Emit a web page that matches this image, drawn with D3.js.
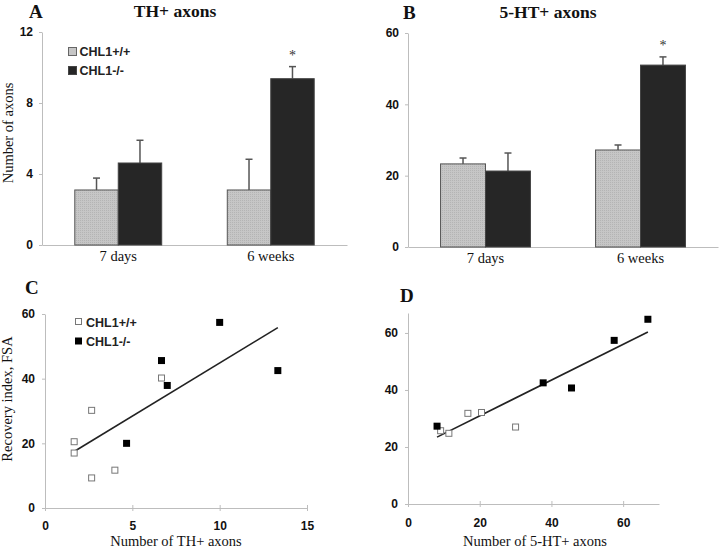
<!DOCTYPE html>
<html><head><meta charset="utf-8">
<script src="https://cdn.jsdelivr.net/npm/d3@7"></script>
<style>
body{margin:0;background:#fff;}
svg{display:block;}
</style></head>
<body>
<svg id="chart" width="720" height="548"></svg>
<script>
// ---------- data ----------
const categories = ["7 days", "6 weeks"];
const groups = ["CHL1+/+", "CHL1-/-"];
// Panel A: TH+ axons
const thWT = [3.1, 3.1];
const thWTerr = [0.67, 1.73];
const thKO = [4.62, 9.37];
const thKOerr = [1.28, 0.68];
const thTicks = [0, 4, 8, 12];
// Panel B: 5-HT+ axons
const htWT = [23.3, 27.2];
const htWTerr = [1.65, 1.4];
const htKO = [21.3, 51.0];
const htKOerr = [5.05, 2.3];
const htTicks = [0, 20, 40, 60];
// Panel C: recovery index vs TH+ axons
const cWTx = [1.67, 1.67, 2.67, 2.67, 4.0, 6.67];
const cWTy = [20.5, 17.0, 9.3, 30.2, 11.7, 40.2];
const cKOx = [4.67, 6.67, 7.0, 10.0, 13.33];
const cKOy = [20.0, 45.6, 37.9, 57.4, 42.5];
const cXTicks = [0, 5, 10, 15];
const cYTicks = [0, 20, 40, 60];
// Panel D: recovery index vs 5-HT+ axons
const dWTx = [9.1, 11.4, 16.7, 20.5, 30.0];
const dWTy = [25.7, 24.8, 31.8, 32.1, 27.0];
const dKOx = [8.1, 37.7, 45.6, 57.5, 66.9];
const dKOy = [27.3, 42.5, 40.7, 57.4, 64.8];
const dXTicks = [0, 20, 40, 60];
const dYTicks = [0, 20, 40, 60];

// ---------- styles ----------
const SERIF = "'Liberation Serif','Times New Roman',serif";
const SANS = "'Liberation Sans',Arial,sans-serif";
const AXIS = "#bdbdbd";
const WT_FILL = "#c6c6c6";
const KO_FILL = "#262626";

const svg = d3.select("#chart");
const defs = svg.append("defs");
const pat = defs.append("pattern").attr("id","dots").attr("width",2).attr("height",2)
  .attr("patternUnits","userSpaceOnUse");
pat.append("rect").attr("width",2).attr("height",2).attr("fill",WT_FILL);
pat.append("rect").attr("width",1).attr("height",1).attr("fill","#b4b4b4");

function styleAxis(g){
  g.select(".domain").attr("stroke",AXIS).attr("stroke-width",1);
  g.selectAll(".tick line").attr("stroke",AXIS);
  g.selectAll(".tick text").attr("font-family",SANS).attr("font-weight","bold")
    .attr("font-size","12px").attr("fill","#111");
}

function text(x,y,s,opts){
  const t = svg.append("text").attr("x",x).attr("y",y).text(s)
    .attr("font-family",opts.family||SERIF).attr("font-size",opts.size)
    .attr("font-weight",opts.weight||"normal").attr("fill",opts.fill||"#111")
    .attr("text-anchor",opts.anchor||"start");
  if(opts.rotate) t.attr("transform",`rotate(-90,${x},${y})`);
  return t;
}

function barPanel(p){
  const x0 = d3.scaleBand().domain(categories).range([p.x0,p.x1])
    .paddingInner(p.padIn).paddingOuter(p.padIn/2);
  const x1 = d3.scaleBand().domain(groups).range([0,x0.bandwidth()]);
  const y = d3.scaleLinear().domain([0,d3.max(p.ticks)]).range([p.y0,p.y1]);
  const g = svg.append("g");
  const ya = g.append("g").attr("transform",`translate(${p.x0},0)`)
    .call(d3.axisLeft(y).tickValues(p.ticks).tickSize(3).tickSizeOuter(0).tickPadding(6));
  styleAxis(ya);
  const xa = g.append("g").attr("transform",`translate(0,${p.y0})`)
    .call(d3.axisBottom(x0).tickSize(0).tickSizeOuter(0).tickPadding(6));
  styleAxis(xa);
  xa.selectAll(".tick text").attr("font-family",SERIF).attr("font-weight","normal")
    .attr("font-size","14.5px");
  const series = [
    {key:groups[0], vals:p.wt, errs:p.wtErr, fill:"url(#dots)", stroke:"#555"},
    {key:groups[1], vals:p.ko, errs:p.koErr, fill:KO_FILL, stroke:"#444"}
  ];
  series.forEach(s=>{
    categories.forEach((c,i)=>{
      const bx = x0(c)+x1(s.key), bw = x1.bandwidth();
      const cx = bx + bw/2;
      const top = y(s.vals[i]+s.errs[i]);
      g.append("line").attr("x1",cx).attr("x2",cx).attr("y1",y(s.vals[i])).attr("y2",top)
        .attr("stroke","#555").attr("stroke-width",1.5);
      g.append("line").attr("x1",cx-3.5).attr("x2",cx+3.5).attr("y1",top).attr("y2",top)
        .attr("stroke","#555").attr("stroke-width",1.5);
      g.append("rect").attr("x",bx).attr("y",y(s.vals[i])).attr("width",bw)
        .attr("height",y(0)-y(s.vals[i])).attr("fill",s.fill).attr("stroke",s.stroke).attr("stroke-width",1);
    });
  });
  // significance star on 6-week knockout bar
  const sx = x0(categories[1])+x1(groups[1])+x1.bandwidth()/2;
  text(sx, y(p.ko[1]+p.koErr[1]) - 7, "*", {size:"14px", anchor:"middle", fill:"#333"});
  return {x0,x1,y};
}

function scatterPanel(p){
  const x = d3.scaleLinear().domain([0,p.xMax]).range([p.x0,p.x1]);
  const y = d3.scaleLinear().domain([0,p.yMax]).range([p.y0,p.y1]);
  const g = svg.append("g");
  const ya = g.append("g").attr("transform",`translate(${p.x0},0)`)
    .call(d3.axisLeft(y).tickValues(p.yTicks).tickSize(3).tickSizeOuter(0).tickPadding(7));
  styleAxis(ya);
  const xa = g.append("g").attr("transform",`translate(0,${p.y0})`)
    .call(d3.axisBottom(x).tickValues(p.xTicks).tickSize(3).tickSizeOuter(0).tickPadding(p.xPad));
  styleAxis(xa);
  xa.selectAll(".tick line").attr("y1",-3);
  // regression line through all points
  const xs = p.wtx.concat(p.kox), ys = p.wty.concat(p.koy);
  const mx = d3.mean(xs), my = d3.mean(ys);
  const slope = d3.sum(xs.map((v,i)=>(v-mx)*(ys[i]-my))) / d3.sum(xs.map(v=>(v-mx)*(v-mx)));
  const icpt = my - slope*mx;
  const [lo,hi] = d3.extent(xs);
  g.append("line").attr("x1",x(lo)).attr("y1",y(icpt+slope*lo)).attr("x2",x(hi)).attr("y2",y(icpt+slope*hi))
    .attr("stroke","#222").attr("stroke-width",1.6);
  const s = 7;
  p.wtx.forEach((v,i)=>{
    g.append("rect").attr("x",x(v)-s/2+0.5).attr("y",y(p.wty[i])-s/2+0.5).attr("width",s-1).attr("height",s-1)
      .attr("fill","#fff").attr("stroke","#777").attr("stroke-width",1);
  });
  p.kox.forEach((v,i)=>{
    g.append("rect").attr("x",x(v)-s/2).attr("y",y(p.koy[i])-s/2).attr("width",s).attr("height",s)
      .attr("fill","#000");
  });
}

// ---------- Panel A ----------
barPanel({x0:42, x1:347, y0:245, y1:32, padIn:0.43, ticks:thTicks,
  wt:thWT, wtErr:thWTerr, ko:thKO, koErr:thKOerr});
text(29,18,"A",{size:"19px",weight:"bold"});
text(175,17,"TH+ axons",{size:"17.5px",weight:"bold",anchor:"middle"});
text(12.5,133,"Number of axons",{size:"14.5px",anchor:"middle",rotate:true});
// legend A
svg.append("rect").attr("x",68.5).attr("y",47.5).attr("width",8).attr("height",8)
  .attr("fill",WT_FILL).attr("stroke","#666");
svg.append("rect").attr("x",68.5).attr("y",66.5).attr("width",8).attr("height",8)
  .attr("fill",KO_FILL).attr("stroke","#444");
text(79.5,56,groups[0],{family:SANS,size:"12.5px",weight:"bold",fill:"#222"});
text(79.5,75,groups[1],{family:SANS,size:"12.5px",weight:"bold",fill:"#222"});

// ---------- Panel B ----------
barPanel({x0:408, x1:718, y0:247, y1:33, padIn:0.42, ticks:htTicks,
  wt:htWT, wtErr:htWTerr, ko:htKO, koErr:htKOerr});
text(403,19,"B",{size:"19px",weight:"bold"});
text(548,18,"5-HT+ axons",{size:"17.5px",weight:"bold",anchor:"middle"});

// ---------- Panel C ----------
scatterPanel({x0:45, x1:307, y0:508, y1:314, xMax:15, yMax:60,
  xTicks:cXTicks, yTicks:cYTicks, xPad:10,
  wtx:cWTx, wty:cWTy, kox:cKOx, koy:cKOy});
text(25,294,"C",{size:"19px",weight:"bold"});
text(11.5,399,"Recovery index, FSA",{size:"14.5px",anchor:"middle",rotate:true});
text(176,546,"Number of TH+ axons",{size:"14.5px",anchor:"middle"});
svg.append("rect").attr("x",75.5).attr("y",318.5).attr("width",6).attr("height",6)
  .attr("fill","#fff").attr("stroke","#777");
svg.append("rect").attr("x",75).attr("y",337.5).attr("width",7).attr("height",7).attr("fill","#000");
text(86,327,groups[0],{family:SANS,size:"12.5px",weight:"bold",fill:"#222"});
text(86,346,groups[1],{family:SANS,size:"12.5px",weight:"bold",fill:"#222"});

// ---------- Panel D ----------
scatterPanel({x0:408, x1:659, y0:504, y1:313, xMax:70, yMax:67,
  xTicks:dXTicks, yTicks:dYTicks, xPad:11,
  wtx:dWTx, wty:dWTy, kox:dKOx, koy:dKOy});
text(400,302,"D",{size:"19px",weight:"bold"});
text(535,546,"Number of 5-HT+ axons",{size:"14.5px",anchor:"middle"});
</script>
</body></html>
